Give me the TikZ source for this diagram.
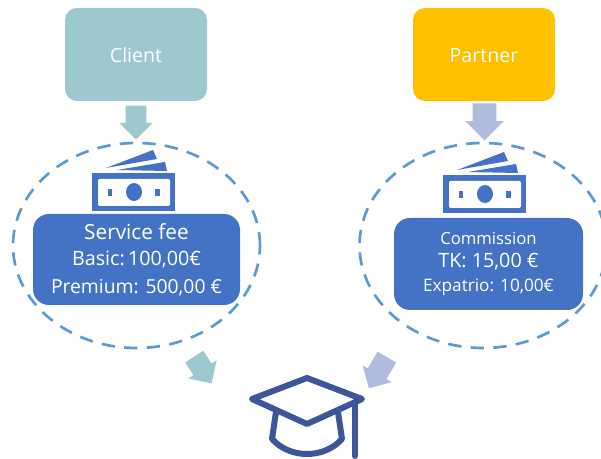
\documentclass[tikz,border=0pt]{standalone}
\usepackage{fontspec}
\setmainfont{Open Sans}
\usetikzlibrary{arrows,calc,positioning,shapes.geometric,shapes.arrows}
\definecolor{clientcol}{HTML}{9DC8CE}
\definecolor{partnercol}{HTML}{FFC000}
\definecolor{partnerarrow}{HTML}{AFBCDE}
\definecolor{feecol}{HTML}{4472C4}
\definecolor{ringcol}{HTML}{5B9BD5}
\definecolor{capcol}{HTML}{3C5699}
\newcommand{\feesize}[1]{\fontsize{#1}{20}\selectfont}
\tikzset{
	party/.style={rounded corners=9pt,minimum width=106.5pt,minimum height=69.75pt,text=white,text height=12pt,font=\fontsize{14.7}{16}\selectfont},
	fatarrow/.style 2 args={single arrow,inner xsep=0pt,inner ysep=#1*.375pt,single arrow head extend=#2*.75pt,single arrow head indent=0pt},
	ring/.style={ellipse,draw=ringcol,line width=2pt,dash pattern=on 10pt off 7pt,inner sep=0pt},
	feebox/.style={fill=feecol,rounded corners=12pt,text=white,align=center,inner sep=0pt},
	banknote/.pic={
		\fill[feecol] (-42,-19) rectangle (41,19);
		\fill[white,rounded corners=1pt] (-36,-13) rectangle (36,14);
		\fill[feecol] (0,0) ellipse (8 and 9);
		\fill[feecol] (-26,-3) rectangle (-22,4);
		\fill[feecol] (21,-3) rectangle (26,4);
		\fill[feecol] (-28,-24) -- (19,-42) -- (23,-33) -- cycle;
		\fill[feecol] (-17,-22) -- (31,-30) -- (33,-21) -- cycle;
	}
}
\begin{document}
\begin{tikzpicture}[x=.75pt,y=-.75pt]
		\useasboundingbox (0,0) rectangle (601,459);
		\node[ring,minimum width=185.25pt,minimum height=153.75pt] (clientring) at (136.5,245.5) {};
		\node[ring,minimum width=185.25pt,minimum height=153.75pt] (partnerring) at (483,245.5) {};
		\node[party,fill=clientcol] (client) at (136,54.5) {Client};
		\node[party,fill=partnercol] (partner) at (484,54.5) {Partner};
		\node[fatarrow={20}{6.5},fill=clientcol,minimum height=25.5pt,rotate=-90] (clientdown) at (136,117.5) {};
		\node[fatarrow={23}{7.5},fill=partnerarrow,minimum height=27.75pt,rotate=-90] (partnerdown) at (484.5,116) {};
		\pic at (134,192) {banknote};
		\pic at (485,194) {banknote};
		\node[feebox,minimum width=155.25pt,minimum height=68.25pt] (servicefee) at (136.5,259.5) {\feesize{15.6}Service fee\\[7.5pt]\feesize{14.8}Basic:\,100,00€\\[7.5pt]\feesize{14.5}Premium: 500,00 €};
		\node[feebox,minimum width=141.75pt,minimum height=69pt] (commission) at (488.5,264) {\feesize{12.5}Commission\\[5.5pt]\feesize{14.8}TK: 15,00 €\\[6pt]\feesize{12.9}Expatrio: 10,00€};
		\node[fatarrow={21}{6},fill=clientcol,minimum height=24pt,rotate=-57] (clientout) at (200,365.5) {};
		\node[fatarrow={21}{6},fill=partnerarrow,minimum height=27pt,rotate=-120] (partnerout) at (380.5,368) {};
		% graduation cap
		\draw[capcol,line width=4.5pt,line join=round,line cap=round] (307,378) -- (252,399) -- (307,424) -- (362,399) -- cycle;
		\draw[capcol,line width=4.5pt,line join=round,line cap=round] (276,412) -- (272,439) .. controls (290,459) and (324,459) .. (342,439) -- (338,412);
		\draw[capcol,line width=4.5pt,line cap=round] (355,402) -- (355,456);
	\end{tikzpicture}
\end{document}
